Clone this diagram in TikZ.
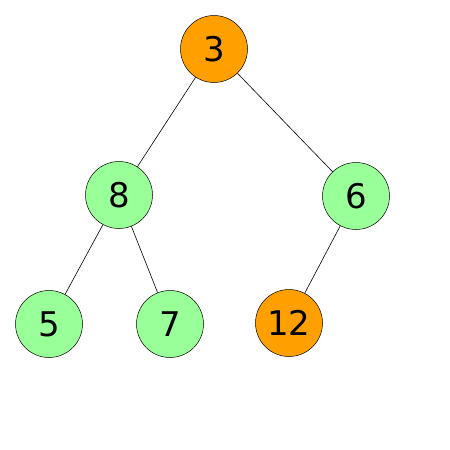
\documentclass[tikz,border=0pt]{standalone}
\usepackage{fontspec}
\setmainfont{DejaVu Sans}
\definecolor{heaporange}{RGB}{255,160,0}
\definecolor{heapgreen}{RGB}{153,255,153}
\begin{document}
\begin{tikzpicture}[x=1pt,y=-1pt,
  heapnode/.style={circle,draw=black,line width=0.5pt,minimum size=67pt,inner sep=0pt,font=\fontsize{34}{40}\selectfont},
  og/.style={heapnode,fill=heaporange},
  gr/.style={heapnode,fill=heapgreen},
  edge/.style={draw=black,line width=0.6pt}]
\useasboundingbox[fill=white] (0,0) rectangle (450,450);
\node[og] (n3) at (214,49) {3};
\node[gr] (n8) at (119,195) {8};
\node[gr] (n6) at (356,196) {6};
\node[gr] (n5) at (49,324) {5};
\node[gr] (n7) at (170,324) {7};
\node[og] (n12) at (289,323) {12};
\draw[edge] (n3) -- (n8);
\draw[edge] (n3) -- (n6);
\draw[edge] (n8) -- (n5);
\draw[edge] (n8) -- (n7);
\draw[edge] (n6) -- (n12);
\end{tikzpicture}
\end{document}
